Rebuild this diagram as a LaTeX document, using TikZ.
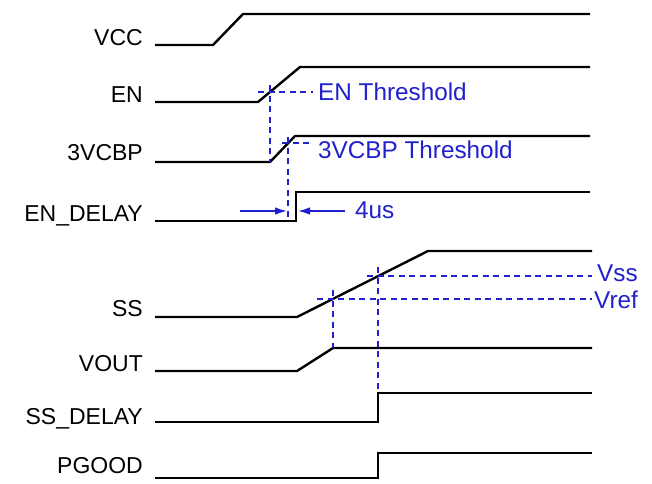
\documentclass[tikz,border=0pt]{standalone}
\usepackage{fontspec}
\setmainfont{Liberation Sans}
\usepackage{xcolor}
\usepackage{tikz}
\usetikzlibrary{calc,arrows.meta}
\definecolor{wave}{HTML}{000000}
\definecolor{marker}{HTML}{2020CC}
\tikzset{
  sig/.style={draw=wave, line width=2.4pt, line join=miter},
  thr/.style={draw=marker, line width=1.6pt, dash pattern=on 6pt off 4.5pt},
  dly/.style={draw=marker, line width=1.4pt, -{Latex[length=12pt,width=7.5pt]}},
  siglbl/.style={text=wave, anchor=base east, inner sep=0pt, font=\fontsize{23}{27}\selectfont},
  thrlbl/.style={text=marker, anchor=base west, inner sep=0pt, font=\fontsize{24.3}{28}\selectfont}
}

\begin{document}
\begin{tikzpicture}[x=1pt, y=-1pt]
  \useasboundingbox (0,0) rectangle (652,483);

  % signal levels
  \coordinate (vccL) at (155,45);   \coordinate (vccH) at (590,14);
  \coordinate (enL) at (155,102);   \coordinate (enH) at (590,67);
  \coordinate (cbpL) at (155,162);  \coordinate (cbpH) at (590,136);
  \coordinate (endL) at (155,221);  \coordinate (endH) at (590,192);
  \coordinate (ssL) at (155,317);   \coordinate (ssH) at (592,251);
  \coordinate (voL) at (155,371);   \coordinate (voH) at (592,348);
  \coordinate (sdL) at (155,422);   \coordinate (sdH) at (592,393);
  \coordinate (pgL) at (155,478);   \coordinate (pgH) at (592,453);

  % waveforms
  \draw[sig] (vccL) -- (213,45) -- (243,14) -- (vccH);
  \draw[sig] (enL) -- (258,102) -- (300,67) -- (enH);
  \draw[sig] (cbpL) -- (270,162) -- (295,136) -- (cbpH);
  \draw[sig] (endL) -- (296,221) -- (296,192) -- (endH);
  \draw[sig] (ssL) -- (297,317) -- (428,251) -- (ssH);
  \draw[sig] (voL) -- (297,371) -- (333,348) -- (voH);
  \draw[sig] (sdL) -- (378,422) -- (378,393) -- (sdH);
  \draw[sig] (pgL) -- (378,478) -- (378,453) -- (pgH);

  % thresholds
  \draw[thr] (258,92) -- (313,92);      % EN threshold
  \draw[thr] (270,85) -- (270,162);
  \draw[thr] (282,143) -- (313,143);    % 3VCBP threshold
  \draw[thr] (288,137) -- (288,221);
  \draw[thr] (367,276) -- (592,276);    % Vss
  \draw[thr] (317,299) -- (592,299);    % Vref
  \draw[thr] (333,290) -- (333,348);
  \draw[thr] (378,267) -- (378,393);

  % 4us delay
  \coordinate (dA) at (240,211);
  \coordinate (dB) at (345,211);
  \draw[dly] (dA) -- (287,211);
  \draw[dly] (dB) -- (298,211);

  % labels
  \node[siglbl] (lvcc) at (143,45) {VCC};
  \node[siglbl] (len) at (143,102) {EN};
  \node[siglbl] (lcbp) at (143,160) {3VCBP};
  \node[siglbl] (lend) at (143,221) {EN\_DELAY};
  \node[siglbl] (lss) at (143,316) {SS};
  \node[siglbl] (lvo) at (143,371) {VOUT};
  \node[siglbl] (lsd) at (143,424) {SS\_DELAY};
  \node[siglbl] (lpg) at (143,473) {PGOOD};

  \node[thrlbl] (ten) at (318,100) {EN Threshold};
  \node[thrlbl] (tcbp) at (318,158) {3VCBP Threshold};
  \node[thrlbl] (tdly) at (355,218) {4us};
  \node[thrlbl] (tvss) at (597,281) {Vss};
  \node[thrlbl] (tvref) at (594,308) {Vref};
\end{tikzpicture}
\end{document}
